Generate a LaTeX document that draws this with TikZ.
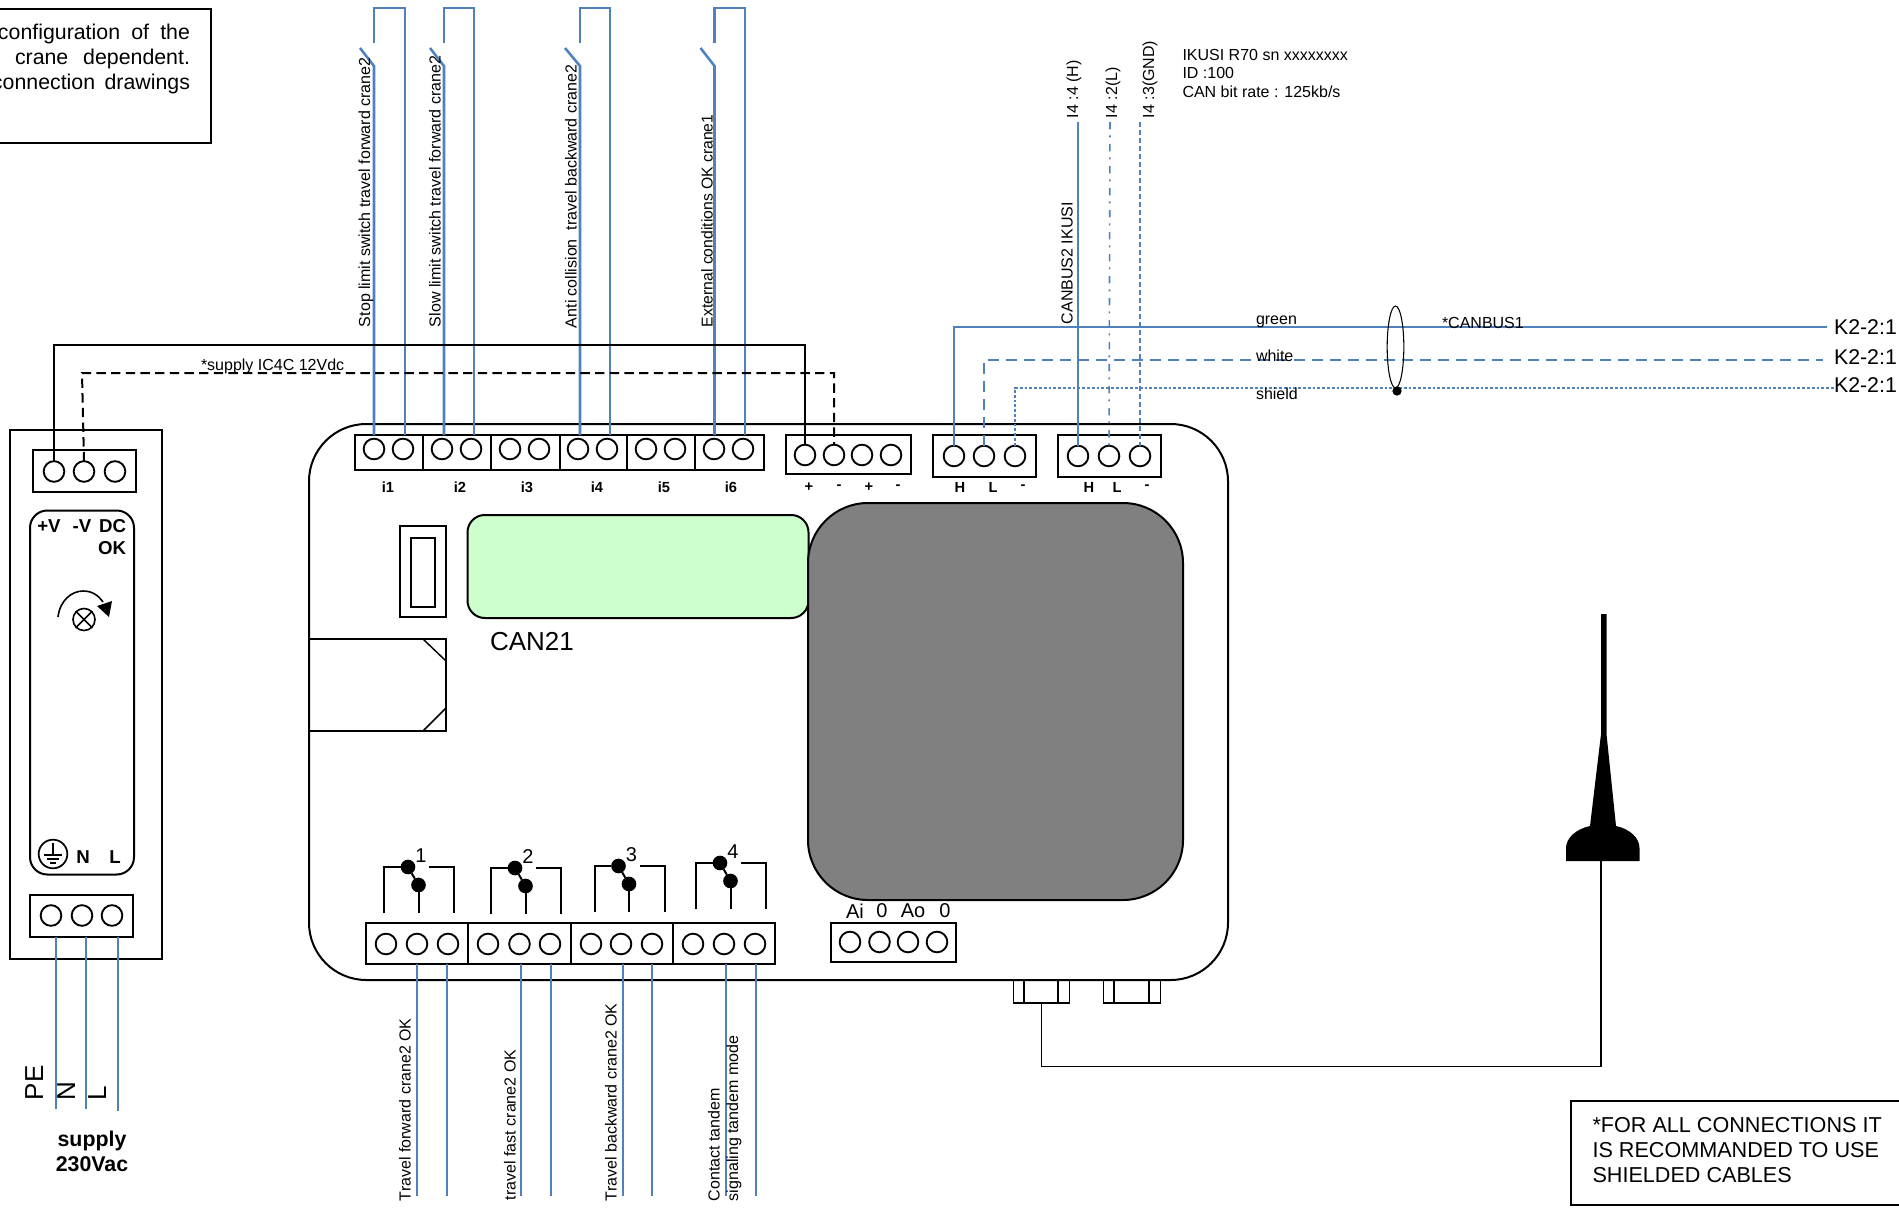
\documentclass[tikz,border=0pt]{standalone}
\usepackage{fontspec}
\setmainfont{Liberation Sans}
\usepackage{tikz}
\usetikzlibrary{shapes.geometric}
\definecolor{wireblue}{HTML}{4F81BD}
\definecolor{lcdgreen}{HTML}{CCFFCC}
\tikzset{
  panel/.style 2 args={
    draw, rectangle, inner sep=0pt, outer sep=0pt, line width=1.5pt,
    minimum width=#1*0.75pt, minimum height=#2*0.75pt,
  },
  thinpanel/.style={line width=1.1pt},
  screw/.style={draw, circle, inner sep=0pt, outer sep=0pt, line width=1.4pt, minimum size=15.5pt},
  contact/.style={fill=black, circle, inner sep=0pt, outer sep=0pt, minimum size=11pt},
  wire/.style={wireblue, line width=1.9pt},
  thinwire/.style={wireblue, line width=1.2pt},
  feed/.style={black, line width=1.5pt},
  relayline/.style={black, line width=1.5pt},
  smalltext/.style={inner sep=0pt, outer sep=0pt, font=\fontsize{12}{14}\selectfont},
  vertlabel/.style={smalltext, rotate=90, anchor=west},
  keytext/.style={inner sep=0pt, outer sep=0pt, font=\fontsize{11}{13}\bfseries\selectfont},
  psutext/.style={inner sep=0pt, outer sep=0pt, font=\fontsize{14}{16}\bfseries\selectfont},
  midtext/.style={inner sep=0pt, outer sep=0pt, font=\fontsize{16}{18.75}\selectfont},
}
\begin{document}
\begin{tikzpicture}[x=0.75pt, y=-0.75pt]
  \useasboundingbox (0,0) rectangle (1899,1207);
  \clip (0,0) rectangle (1899,1207);

  % Define nodes
  \node[panel={919}{556}, rounded corners=43pt] (can21) at (768.5,702) {};
  \node[panel={341}{103}, rounded corners=13pt, fill=lcdgreen] (lcd) at (638,566.5) {};
  \node[panel={375}{397}, rounded corners=45pt, fill=black!50] (display) at (995.5,701.5) {};
  \node[panel={46}{91}] (slot) at (423,571.5) {};
  \node[panel={24}{69}] (slotin) at (423,572.5) {};
  \node[panel={137}{92}] (plug) at (377.5,685) {};
  \draw[line width=1.1pt] (423,639) -- (446,661);
  \draw[line width=1.1pt] (423,731) -- (446,708);

  % Input strip
  \foreach \name/\cx/\w in {i1/389/68, i2/457/68, i3/525.5/69, i4/593.5/67, i5/661/68, i6/729.5/69}
    \node[panel={\w}{35}] (\name) at (\cx,452.5) {};
  \foreach \name/\px in {i1a/374, i1b/403, i2a/442, i2b/471, i3a/510, i3b/539, i4a/578, i4b/607, i5a/646, i5b/675, i6a/714, i6b/743}
    \node[screw] (\name) at (\px,449) {};
  \foreach \name/\px in {i1/388, i2/460, i3/527, i4/597, i5/664, i6/731}
    \node[keytext] (key\name) at (\px,487) {\name};

  % Supply and bus strips
  \node[panel={125}{39}] (power) at (848.5,454.5) {};
  \foreach \name/\px in {pa/805, pb/834, pc/862, pd/891}
    \node[screw] (\name) at (\px,455) {};
  \foreach \name/\px/\t in {pkeya/809/+, pkeyb/839/-, pkeyc/869/+, pkeyd/898/-}
    \node[keytext] (\name) at (\px,487) {\t};
  \node[panel={103}{42}] (bus1) at (984.5,456) {};
  \foreach \name/\px in {bus1h/954, bus1l/984, bus1g/1015}
    \node[screw] (\name) at (\px,456) {};
  \node[panel={103}{42}] (bus2) at (1109.5,456) {};
  \foreach \name/\px in {bus2h/1078, bus2l/1109, bus2g/1140}
    \node[screw] (\name) at (\px,456) {};
  \foreach \name/\px/\t in {bkeya/960/H, bkeyb/993/L, bkeyc/1023/-, bkeyd/1089/H, bkeye/1117/L, bkeyf/1147/-}
    \node[keytext] (\name) at (\px,487) {\t};

  % Relay strip
  \foreach \name/\cx/\w in {rel1/417/102, rel2/519.5/103, rel3/622/102, rel4/724/102}
    \node[panel={\w}{41}] (\name) at (\cx,943.5) {};
  \foreach \name/\px in {rel1a/386, rel1b/417, rel1c/448, rel2a/488, rel2b/519.5, rel2c/550, rel3a/591, rel3b/621, rel3c/652, rel4a/693, rel4b/724, rel4c/755}
    \node[screw] (\name) at (\px,944) {};
  \foreach \n/\lx/\ty in {1/384/867, 2/491/868, 3/594.5/866, 4/696/863}{
    \begin{scope}[shift={(\lx,\ty)}]
      \node[contact] (dot\n a) at (24,0) {};
      \node[contact] (dot\n b) at (34.5,18) {};
      \draw[relayline] (dot\n a) -- (dot\n b);
      \draw[relayline] (0,46) |- (dot\n a);
      \draw[relayline] (dot\n b) -- (34.5,46);
      \draw[relayline] (45,0) -- (70,0) -- (70,46);
      \node[midtext, font=\fontsize{15}{18}\selectfont] (num\n) at (37,-11) {\n};
    \end{scope}
  }

  % Analog strip and sockets
  \node[panel={125}{39}] (analog) at (893.5,942.5) {};
  \foreach \name/\px in {ana/850, anb/879.5, anc/908, and/937}
    \node[screw] (\name) at (\px,942) {};
  \foreach \name/\px/\t in {akeya/855/Ai, akeyb/882/0, akeyc/913/Ao, akeyd/945/0}
    \node[midtext, font=\fontsize{15}{18}\selectfont] (\name) at (\px,911) {\t};
  \node[panel={56}{23}, thinpanel] (ant1) at (1041.5,991.5) {};
  \node[panel={34}{23}, thinpanel] (ant1in) at (1041,991.5) {};
  \node[panel={57}{23}, thinpanel] (ant2) at (1132,991.5) {};
  \node[panel={35}{23}, thinpanel] (ant2in) at (1131.5,991.5) {};

  % Supply unit
  \node[panel={152}{529}] (psu) at (86,694.5) {};
  \node[panel={103}{42}] (psutop) at (84.5,471) {};
  \foreach \name/\px in {psua/54, psub/84, psuc/115}
    \node[screw] (\name) at (\px,471.5) {};
  \node[panel={104}{364}, rounded corners=13pt] (psuface) at (82,692.5) {};
  \node[panel={103}{42}] (psubot) at (81.5,915.5) {};
  \foreach \name/\px in {psud/51, psue/82, psuf/112}
    \node[screw] (\name) at (\px,915.5) {};
  \node[psutext] (vplus) at (49,526) {+V};
  \node[psutext] (vminus) at (82,526) {-V};
  \node[psutext, anchor=east] (dcok) at (126,537) [align=right] {DC\\OK};
  \node[psutext] (keyn) at (83,857.5) {N};
  \node[psutext] (keyl) at (115,857.5) {L};
  \node[draw, circle, line width=1.2pt, inner sep=0pt, minimum size=16.5pt] (knob) at (84,619.5) {};
  \draw[line width=1.2pt] (knob.45) -- (knob.225);
  \draw[line width=1.2pt] (knob.135) -- (knob.315);
  \draw[line width=1.2pt] (58,617) .. controls (60,600) and (72,591) .. (83,591) .. controls (92,591) and (98,595) .. (103,602);
  \fill (97,606) -- (112,601) -- (109,617) -- cycle;
  \node[draw, circle, line width=1.3pt, inner sep=0pt, minimum size=21.5pt] (earth) at (53,854) {};
  \draw[line width=1.1pt] (53,843) -- (53,855);
  \draw[line width=1.1pt] (44,855) -- (62,855);
  \draw[line width=1.1pt] (47,859) -- (59,859);
  \draw[line width=1.1pt] (50,863) -- (56,863);

  % Free ends
  \coordinate (endpe) at (56,1109);
  \coordinate (endn) at (86,1109);
  \coordinate (endl) at (118,1111);
  \coordinate (feedone) at (54,345);
  \coordinate (feedtwo) at (82,373);
  \coordinate (k2green) at (1827,327);
  \coordinate (k2white) at (1823,360);
  \coordinate (k2shield) at (1834,388);
  \coordinate (canh) at (1078,122);
  \coordinate (canl) at (1110,122);
  \coordinate (cang) at (1140,122);
  \coordinate (cablecorner) at (1041.5,1066.5);
  \coordinate (antbase) at (1601,861);

  % Connect nodes
  \foreach \ax/\bx/\u/\lx in {374/405/i1/360, 444/474/i2/430, 580/610/i4/565, 714.5/745/i6/700.5}{
    \draw[wire] (\ax,0 |- \u.north) -- (\ax,66) -- (\lx,48);
    \draw[wire] (\bx,0 |- \u.north) -- (\bx,8) -- (\ax,8) -- (\ax,43);
  }
  \foreach \sx/\u in {417/rel1, 447/rel1, 521/rel2, 551/rel2, 623/rel3, 652/rel3, 726/rel4, 756/rel4}
    \draw[wire] (\sx,0 |- \u.south) -- (\sx,1196);
  \foreach \s in {endpe, endn, endl}
    \draw[wire] (\s |- psubot.south) -- (\s);

  \draw[feed] (psua.north) -- (feedone) -| (pa.north);
  \draw[feed, dash pattern=on 7pt off 4pt] (psub.north) -- (feedtwo) -| (pb.north);

  \draw[wire] (bus1h.north) |- (k2green);
  \draw[wire, dash pattern=on 8pt off 5.5pt] (bus1l.north) |- (k2white);
  \draw[wire, dash pattern=on 2.2pt off 1.4pt] (bus1g.north) |- (k2shield);

  \draw[thinwire] (canh) -- (bus2h.north);
  \draw[thinwire, dash pattern=on 5.5pt off 4.5pt on 1.5pt off 5pt] (canl) -- (bus2l.north);
  \draw[thinwire, dash pattern=on 4pt off 2pt] (cang) -- (bus2g.north);

  \draw[feed, line width=1.2pt] (ant1.south) -- (cablecorner) -| (antbase);

  \node[draw, ellipse, line width=0.8pt, inner sep=0pt, minimum width=12.5pt, minimum height=61.5pt] (ring) at (1395.5,347) {};
  \node[fill=black, circle, inner sep=0pt, minimum size=7pt] (ringdot) at (1397,391) {};

  % Antenna
  \fill (1601,614) -- (1606.6,614) -- (1606.6,735) -- (1616,826)
    .. controls (1630,829) and (1639.5,838) .. (1639.5,848) -- (1639.5,861) -- (1566,861) -- (1566,848)
    .. controls (1566,838) and (1576,829) .. (1590,826) -- (1601,734) -- cycle;

  % Labels
  \node[vertlabel] (lblstop) at (366,327) {Stop limit switch travel forward crane2};
  \node[vertlabel] (lblslow) at (435,327) {Slow limit switch travel forward crane2};
  \node[vertlabel] (lblanti) at (571,328) {Anti collision\ \ travel backward crane2};
  \node[vertlabel, font=\fontsize{11.8}{14}\selectfont] (lblext) at (707,327) {External conditions OK crane1};
  \node[smalltext, anchor=west] (lblsupply) at (201,366) {*supply IC4C 12Vdc};

  \node[vertlabel] (lblfwd) at (405,1201) {Travel forward crane2 OK};
  \node[vertlabel] (lblfast) at (510,1200) {travel fast crane2 OK};
  \node[vertlabel] (lblback) at (611,1201) {Travel backward crane2 OK};
  \node[vertlabel] (lblcontact) at (714,1201) {Contact tandem};
  \node[vertlabel] (lblsignal) at (734,1201) {signaling tandem mode};

  \node[vertlabel] (lblh) at (1074,118) {I4 :4 (H)};
  \node[vertlabel] (lbll) at (1113,118) {I4 :2(L)};
  \node[vertlabel] (lblg) at (1150,118) {I4 :3(GND)};
  \node[vertlabel] (lblbus) at (1067,324) {CANBUS2 IKUSI};
  \node[smalltext, anchor=west] (lblr70) at (1182.5,55) {IKUSI R70 sn xxxxxxxx};
  \node[smalltext, anchor=west] (lblid) at (1182.5,73) {ID :100};
  \node[smalltext, anchor=west] (lblrate) at (1182.5,92) {CAN bit rate : 125kb/s};

  \node[smalltext, anchor=west] (lblgreen) at (1256,322) {green};
  \node[smalltext, anchor=west] (lblwhite) at (1256,356) {white};
  \node[smalltext, anchor=west] (lblshield) at (1256,394) {shield};
  \node[smalltext, anchor=west] (lblcanbus) at (1442,323) {*CANBUS1};
  \node[midtext, anchor=west] (k2a) at (1834,327) {K2-2:1};
  \node[midtext, anchor=west] (k2b) at (1834,357) {K2-2:1};
  \node[midtext, anchor=west] (k2c) at (1834,385) {K2-2:1};

  \node[midtext, font=\fontsize{19.5}{22}\selectfont, anchor=west] (lblcan) at (490,642) {CAN21};
  \node[midtext, font=\fontsize{19.5}{22}\selectfont, rotate=90, anchor=base west] (lblpe) at (43,1100) {PE};
  \node[midtext, font=\fontsize{19.5}{22}\selectfont, rotate=90, anchor=base west] (lbln) at (75,1100) {N};
  \node[midtext, font=\fontsize{19.5}{22}\selectfont, rotate=90, anchor=base west] (lbll2) at (106,1100) {L};
  \node[psutext, font=\fontsize{16}{18.75}\bfseries\selectfont, align=center] (lblmains) at (92,1151) {supply\\230Vac};

  % Note boxes
  \node[panel={241}{134}, thinpanel] (notetop) at (90.5,76) {};
  \node[midtext, anchor=north east, align=left, text width=148.5pt] (notetoptext) at (190,24.5) {\hspace*{4.5pt}\makebox[144pt][l]{configuration\hfill of\hfill the}\\\hspace*{17.25pt}\makebox[131.25pt][l]{crane\hfill dependent.}\\\makebox[148.5pt][l]{connection\hfill drawings}};
  \node[panel={330}{104}, thinpanel] (notebot) at (1736,1153) {};
  \node[midtext, font=\fontsize{16.2}{18.75}\selectfont, anchor=north west, align=left] (notebottext) at (1592.5,1117) {*FOR ALL CONNECTIONS IT\\IS RECOMMANDED TO USE\\SHIELDED CABLES};

\end{tikzpicture}
\end{document}
